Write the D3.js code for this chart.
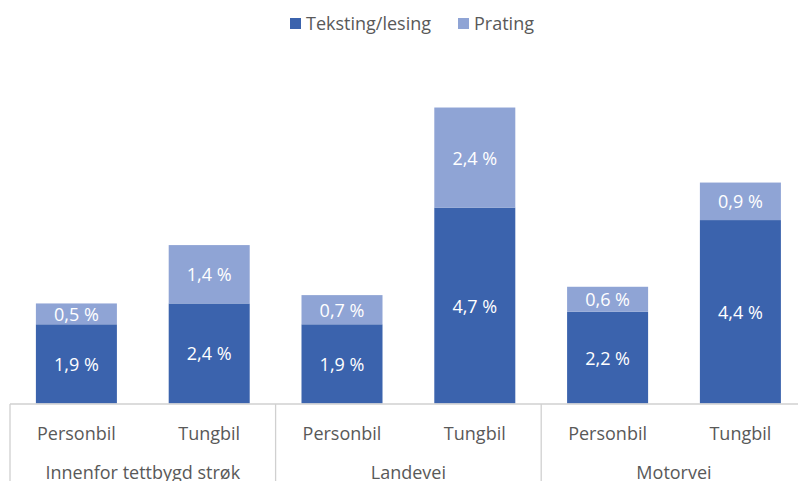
<!DOCTYPE html>
<html><head><meta charset="utf-8">
<script src="https://cdn.jsdelivr.net/npm/d3@7"></script>
<style>
html,body{margin:0;padding:0;background:#fff;overflow:hidden}
text{font-family:"Open Sans",sans-serif}
</style></head>
<body>
<svg id="c" width="798" height="481"></svg>
<script>
const groups = ["Innenfor tettbygd strøk", "Landevei", "Motorvei"];
const vehicles = ["Personbil", "Tungbil"];
const seriesNames = ["Teksting/lesing", "Prating"];
const teksting = [1.9, 2.4, 1.9, 4.7, 2.2, 4.4];
const prating = [0.5, 1.4, 0.7, 2.4, 0.6, 0.9];
const colors = ["#3b63ad", "#8fa4d5"];

const svg = d3.select("#c");
const cats = [];
groups.forEach((g, gi) => vehicles.forEach((v, vi) => cats.push({g, v, key: gi + "-" + vi})));
const step = 132.8;
const x0 = 10;
const x = d3.scaleBand().domain(cats.map(c => c.key)).range([x0, x0 + step * cats.length]).padding(0);
const y = d3.scaleLinear().domain([0, 8]).range([403.5, 70]);
const barW = x.bandwidth() * 0.61;

const data = cats.map((c, i) => ({...c, vals: [teksting[i], prating[i]]}));
const fmt = v => d3.format(".1f")(v).replace(".", ",") + " %";

data.forEach(d => {
  let base = 0;
  d.vals.forEach((v, si) => {
    const cx = x(d.key) + x.bandwidth() / 2;
    const y1 = y(base + v), y0 = y(base);
    svg.append("rect").attr("x", cx - barW / 2).attr("y", y1)
      .attr("width", barW).attr("height", y0 - y1).attr("fill", colors[si]);
    svg.append("text").attr("x", cx).attr("y", (y0 + y1) / 2)
      .attr("text-anchor", "middle").attr("dominant-baseline", "central")
      .attr("fill", "#ffffff").attr("font-size", 18).text(fmt(v));
    base += v;
  });
});

// axis line
svg.append("line").attr("x1", x0).attr("x2", x0 + step * cats.length)
  .attr("y1", 404).attr("y2", 404).attr("stroke", "#d0d0d0").attr("stroke-width", 1.3);
// group separators
for (let gi = 0; gi <= groups.length; gi++) {
  const xx = x0 + gi * step * vehicles.length;
  svg.append("line").attr("x1", xx).attr("x2", xx).attr("y1", 404).attr("y2", 481)
    .attr("stroke", "#d0d0d0").attr("stroke-width", 1.3);
}
// category labels
data.forEach(d => {
  svg.append("text").attr("x", x(d.key) + x.bandwidth() / 2).attr("y", 440)
    .attr("text-anchor", "middle").attr("fill", "#595959").attr("font-size", 18).text(d.v);
});
groups.forEach((g, gi) => {
  svg.append("text").attr("x", x0 + (gi + 0.5) * step * vehicles.length).attr("y", 479)
    .attr("text-anchor", "middle").attr("fill", "#595959").attr("font-size", 18).text(g);
});

// legend
const legX = [290, 458];
seriesNames.forEach((s, si) => {
  svg.append("rect").attr("x", legX[si]).attr("y", 18).attr("width", 11).attr("height", 11).attr("fill", colors[si]);
  svg.append("text").attr("x", legX[si] + 16).attr("y", 30).attr("fill", "#595959")
    .attr("font-size", 18).text(s);
});
</script>
</body></html>
